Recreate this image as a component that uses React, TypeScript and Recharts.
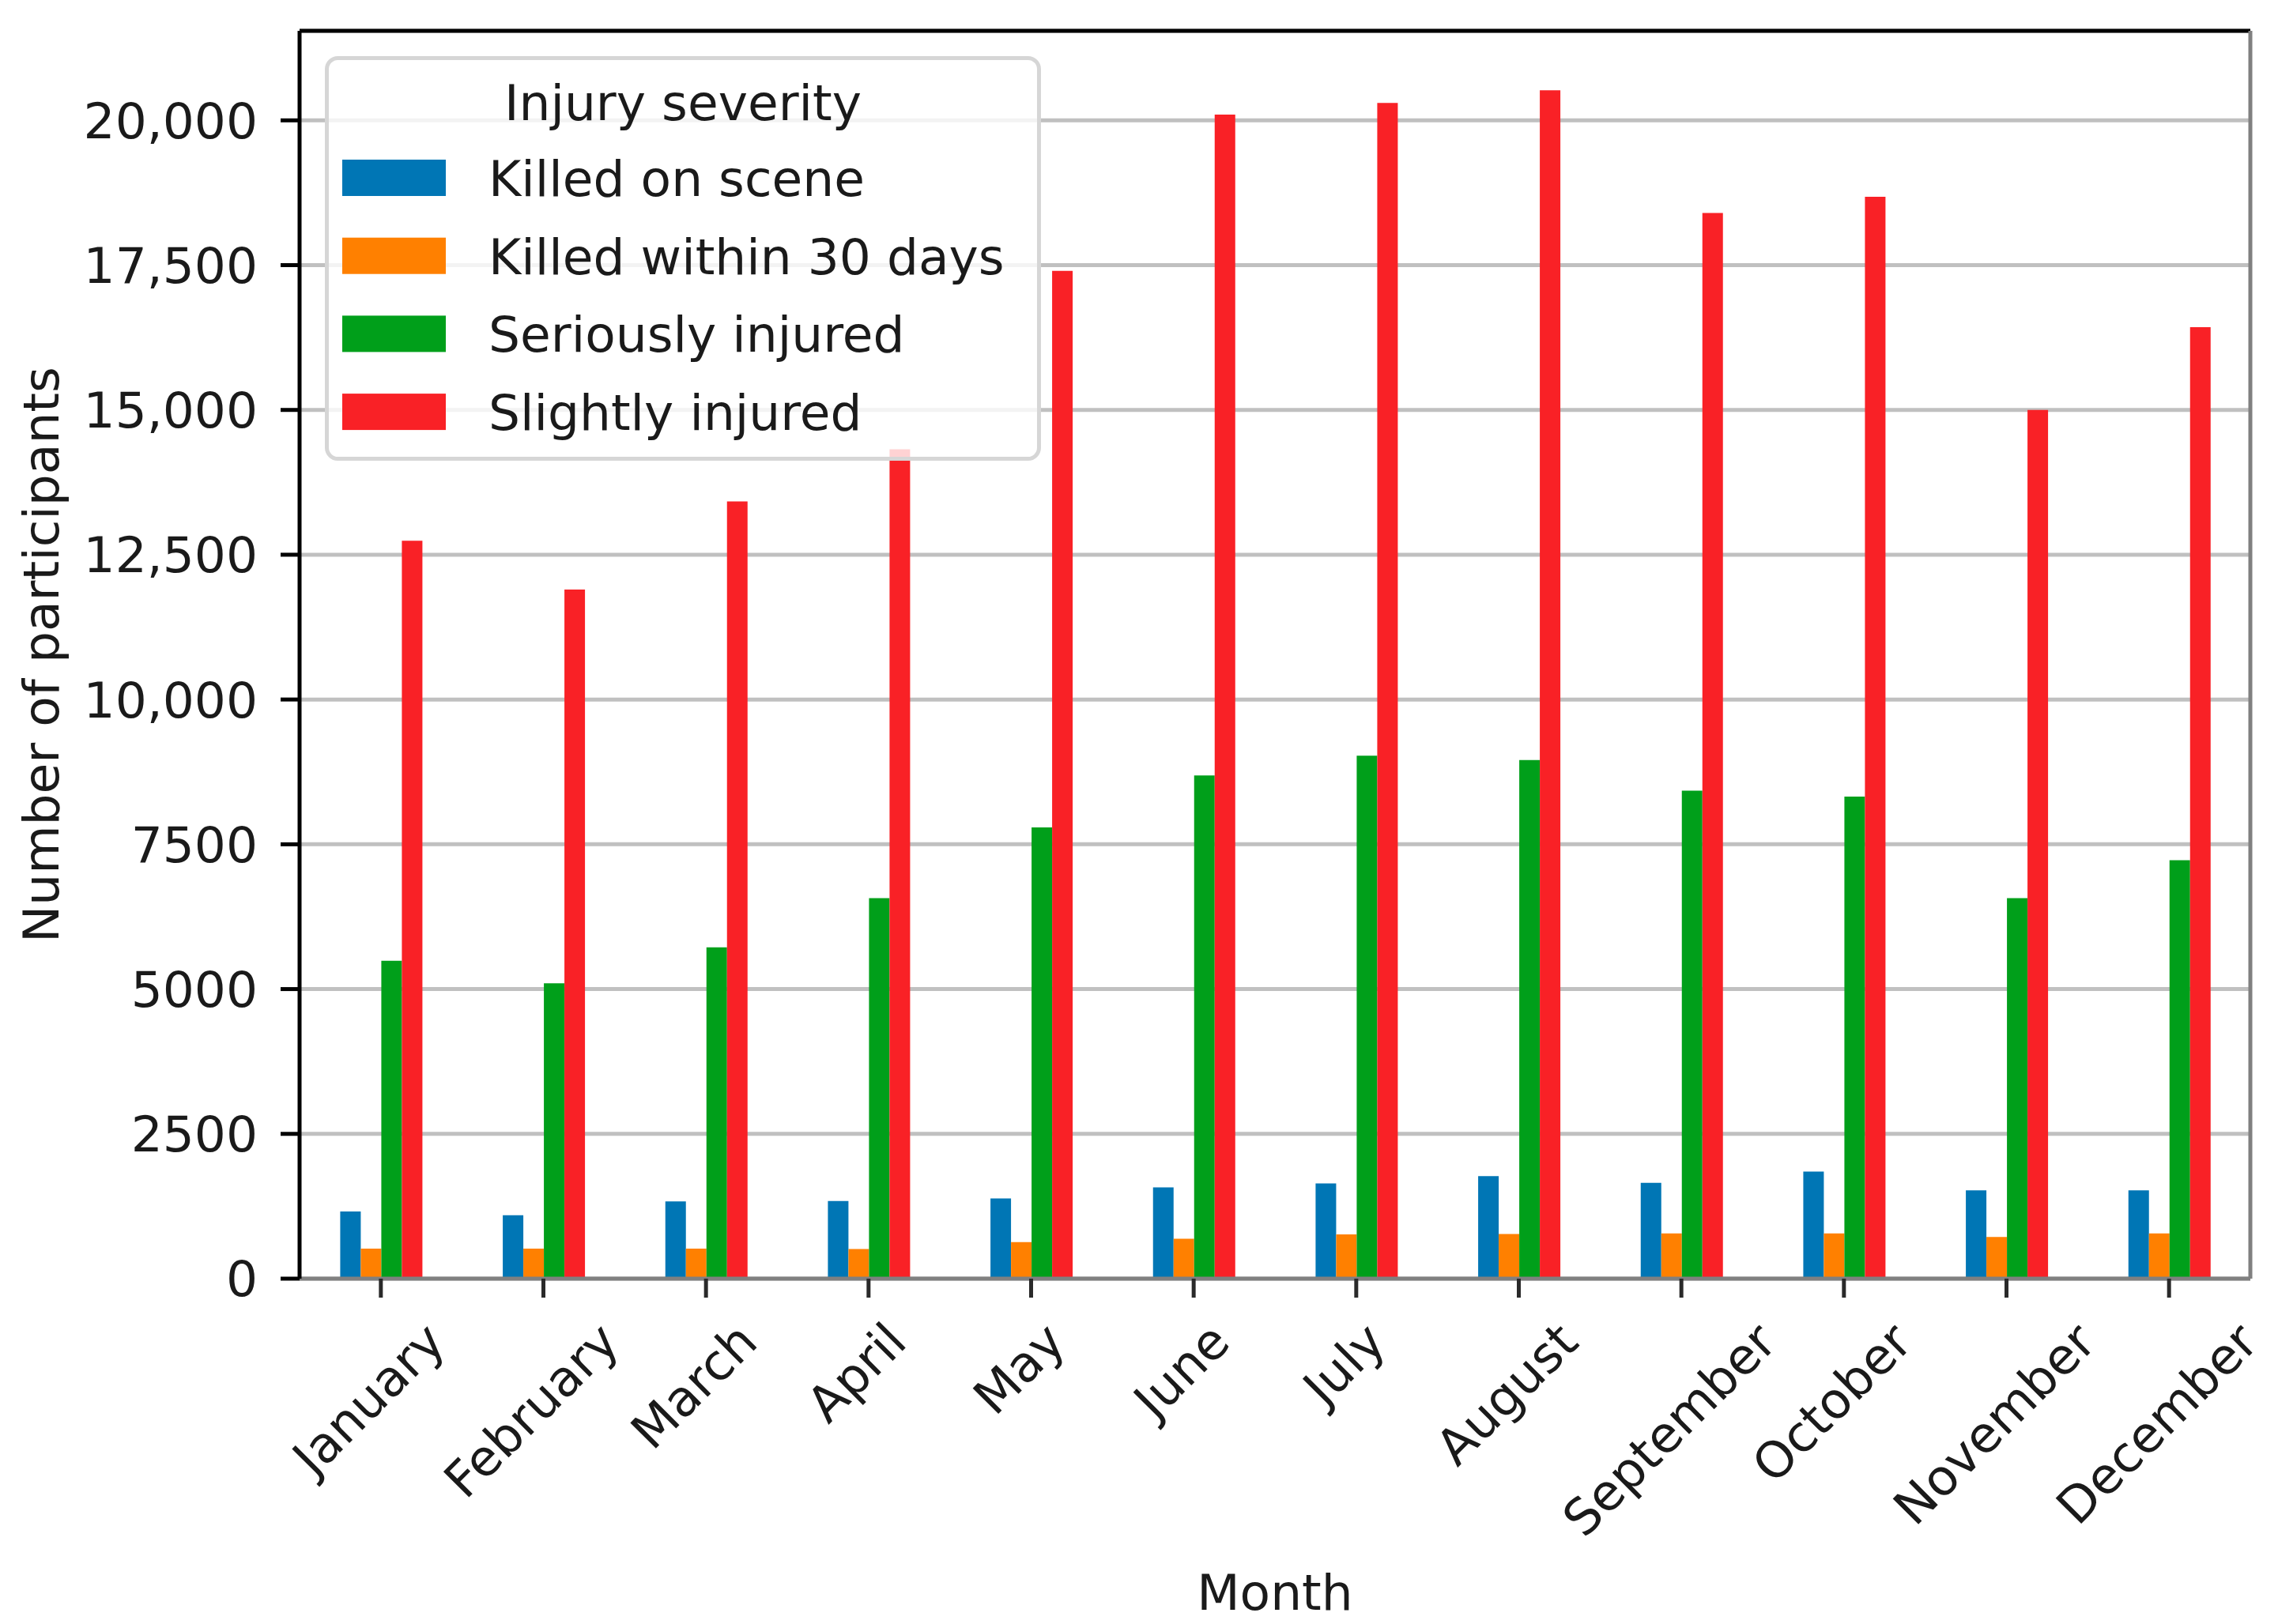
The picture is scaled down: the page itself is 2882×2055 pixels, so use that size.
import React from 'react'
import { BarChart, Bar, XAxis, YAxis, CartesianGrid, Legend } from 'recharts'

document.body.style.margin = '0'
document.body.style.overflow = 'hidden'

const months = [
  'January', 'February', 'March', 'April', 'May', 'June',
  'July', 'August', 'September', 'October', 'November', 'December',
]
const killedOnScene = [1160, 1095, 1335, 1340, 1385, 1575, 1645, 1770, 1655, 1850, 1525, 1525]
const killedWithin30Days = [520, 520, 520, 510, 630, 690, 765, 770, 780, 780, 720, 780]
const seriouslyInjured = [5490, 5100, 5720, 6570, 7790, 8690, 9030, 8955, 8425, 8325, 6570, 7225]
const slightlyInjured = [12740, 11900, 13420, 14320, 17400, 20100, 20300, 20520, 18400, 18680, 15000, 16430]

const seriesKeys = ['onScene', 'within30', 'serious', 'slight']
const seriesNames = ['Killed on scene', 'Killed within 30 days', 'Seriously injured', 'Slightly injured']
const seriesColors = ['#0076b5', '#ff8000', '#009f1a', '#f92126']
const yTicks = [0, 2500, 5000, 7500, 10000, 12500, 15000, 17500, 20000]

const data = months.map((month, i) => ({
  month,
  onScene: killedOnScene[i],
  within30: killedWithin30Days[i],
  serious: seriouslyInjured[i],
  slight: slightlyInjured[i],
}))

const yMax = Math.max(...slightlyInjured) * 1.05

const FONT = '"DejaVu Sans", sans-serif'
const FS = 63
const INK = '#1a1a1a'

let ctx: CanvasRenderingContext2D | null = null
function textWidth(s: string) {
  if (!ctx) ctx = document.createElement('canvas').getContext('2d')
  if (!ctx) return s.length * FS * 0.6
  ctx.font = `${FS}px "DejaVu Sans"`
  return ctx.measureText(s).width
}

// rotated month label, box centred under the tick like matplotlib rotation=45
function MonthTick(props: any) {
  const { x, y, payload } = props
  const half = ((textWidth(payload.value) + FS) * Math.SQRT1_2) / 2
  const cx = x - 15
  const cy = y + half
  return (
    <text x={cx} y={cy} textAnchor="middle" dominantBaseline="central"
      transform={`rotate(-45 ${cx} ${cy})`} fontSize={FS} fontFamily={FONT} fill={INK}>
      {payload.value}
    </text>
  )
}

function SeverityLegend() {
  return (
    <svg width={906} height={512} style={{ display: 'block' }}>
      <rect x={2.5} y={2.5} width={901} height={507} rx={14} fill="#fff" fillOpacity={0.8}
        stroke="#d6d6d6" strokeWidth={5} />
      <text x={453} y={81} textAnchor="middle" fontSize={FS} fontFamily={FONT} fill={INK}>
        Injury severity
      </text>
      {seriesNames.map((name, i) => {
        const cy = 154 + i * 98.7
        return (
          <g key={name}>
            <rect x={22} y={cy - 23} width={131} height={46} fill={seriesColors[i]} />
            <text x={207} y={cy + 23} fontSize={FS} fontFamily={FONT} fill={INK}>{name}</text>
          </g>
        )
      })}
    </svg>
  )
}

export default function App() {
  return (
    <div style={{ width: 2882, height: 2055, background: '#fff' }}>
      <BarChart width={2882} height={2055} data={data}
        margin={{ top: 38, right: 34, bottom: 0, left: 0 }}
        barCategoryGap="25%" barGap={0}>
        {seriesKeys.map((k, i) => (
          <Bar key={k} dataKey={k} name={seriesNames[i]} fill={seriesColors[i]} isAnimationActive={false} />
        ))}
        <CartesianGrid vertical={false} stroke="#b0b0b0" strokeOpacity={0.8} strokeWidth={5} />
        <XAxis dataKey="month" interval={0} height={437} tickSize={24} tickMargin={22}
          axisLine={{ stroke: '#808080', strokeWidth: 5 }}
          tickLine={{ stroke: '#2a2a2a', strokeWidth: 5 }}
          tick={MonthTick}
          label={() => (
            <text x={1613} y={2037} textAnchor="middle" fontSize={FS} fontFamily={FONT} fill={INK}>Month</text>
          )} />
        <XAxis xAxisId="top" dataKey="month" orientation="top" height={1} tick={false} tickLine={false}
          axisLine={{ stroke: '#000', strokeWidth: 5 }} />
        <YAxis domain={[0, yMax]} ticks={yTicks} width={379} tickSize={24} tickMargin={29}
          interval={0}
          axisLine={{ stroke: '#000', strokeWidth: 5 }}
          tickLine={{ stroke: '#000', strokeWidth: 5 }}
          tick={{ fontSize: FS, fontFamily: FONT, fill: INK }}
          tickFormatter={(v: number) => (v >= 10000 ? v.toLocaleString('en-US') : String(v))}
          label={() => (
            <text x={74} y={828.5} textAnchor="middle" transform="rotate(-90 74 828.5)"
              fontSize={FS} fontFamily={FONT} fill={INK}>Number of participants</text>
          )} />
        <YAxis yAxisId="right" orientation="right" width={1} domain={[0, yMax]} tick={false} tickLine={false}
          axisLine={{ stroke: '#808080', strokeWidth: 5 }} />
        <Legend layout="vertical" align="center" verticalAlign="middle"
          wrapperStyle={{ position: 'absolute', left: 411, top: 71, width: 906, height: 512 }}
          content={() => <SeverityLegend />} />
      </BarChart>
    </div>
  )
}
